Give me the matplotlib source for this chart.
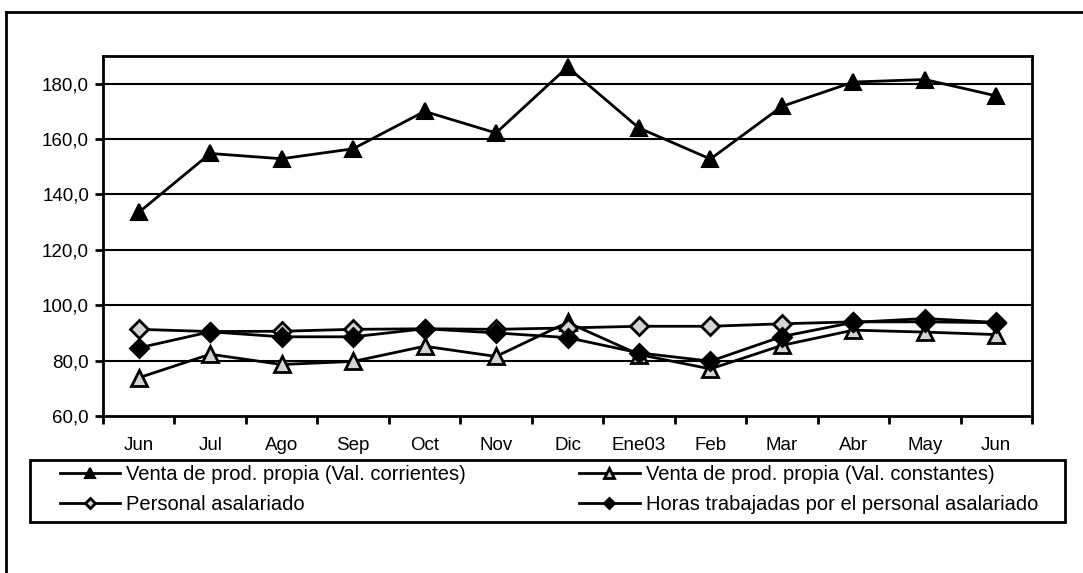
import numpy as np
import matplotlib
matplotlib.use("Agg")
import matplotlib.pyplot as plt
from matplotlib.patches import Rectangle
from matplotlib.lines import Line2D

plt.rcParams['font.family'] = ['Liberation Sans', 'DejaVu Sans']

# data
meses = ['Jun', 'Jul', 'Ago', 'Sep', 'Oct', 'Nov', 'Dic', 'Ene03', 'Feb', 'Mar', 'Abr', 'May', 'Jun']
venta_corr = [133.5, 154.8, 152.9, 156.5, 170.0, 162.2, 186.0, 164.0, 152.8, 171.8, 180.6, 181.5, 175.6]
venta_const = [73.8, 82.3, 78.6, 79.7, 85.2, 81.5, 93.8, 82.2, 77.0, 85.5, 91.0, 90.3, 89.4]
personal = [91.3, 90.5, 90.6, 91.3, 91.5, 91.3, 91.8, 92.4, 92.4, 93.3, 94.0, 94.0, 93.7]
horas = [84.6, 90.4, 88.6, 88.6, 91.5, 90.0, 88.3, 82.8, 79.8, 88.7, 93.8, 95.2, 93.8]

x = np.arange(len(meses))

fig = plt.figure(figsize=(10.83, 5.73), dpi=100)
ax = fig.add_axes([103 / 1083, 1 - 416 / 573, (1032 - 103) / 1083, (416 - 56) / 573])

ax.set_ylim(60, 190)
ax.set_xlim(-0.5, len(meses) - 0.5)
ax.set_yticks(np.arange(60, 181, 20))
ax.set_yticklabels(['%d,0' % v for v in range(60, 181, 20)])
for v in range(80, 181, 20):
    ax.axhline(v, color='black', lw=1.5, zorder=1)

l1, = ax.plot(x, venta_corr, color='black', lw=2, marker='^', ms=12,
              mfc='black', mec='black', mew=1.5, zorder=3,
              label='Venta de prod. propia (Val. corrientes)')
l2, = ax.plot(x, venta_const, color='black', lw=2, marker='^', ms=12,
              mfc='#d4d4d4', mec='black', mew=2, zorder=3,
              label='Venta de prod. propia (Val. constantes)')
l3, = ax.plot(x, personal, color='black', lw=2, marker='D', ms=9,
              mfc='#d4d4d4', mec='black', mew=2, zorder=3,
              label='Personal asalariado')
l4, = ax.plot(x, horas, color='black', lw=2, marker='D', ms=9,
              mfc='black', mec='black', mew=2, zorder=3,
              label='Horas trabajadas por el personal asalariado')

# category labels centered, tick marks between categories
ax.set_xticks(x)
ax.set_xticklabels(meses, fontsize=13.5)
ax.tick_params(axis='x', which='major', length=0, pad=15)
ax.set_xticks(np.arange(-0.5, len(meses)), minor=True)
ax.tick_params(axis='x', which='minor', length=6, width=2, direction='out')
ax.tick_params(axis='y', length=6, width=2, direction='out', labelsize=13.5, pad=4)

for s in ax.spines.values():
    s.set_linewidth(2)

# legend (frame drawn separately)
fig.legend([l1, l3, l2, l4], [l1.get_label(), l3.get_label(), l2.get_label(), l4.get_label()],
           ncol=2, mode='expand', frameon=False, fontsize=14.5, markerscale=0.55,
           bbox_to_anchor=(58 / 1083, 1 - 520 / 573, (1040 - 58) / 1083, 57 / 573),
           loc='upper left', borderpad=0.1, borderaxespad=0, handlelength=3.0,
           handletextpad=0.3, labelspacing=0.55)
fig.patches.append(Rectangle((30 / 1083, 1 - 522 / 573), (1065 - 30) / 1083, 62 / 573,
                             transform=fig.transFigure, fill=False, ec='black', lw=2))

# outer chart frame: only left and top edges fall inside the picture
fig.lines.append(Line2D([6 / 1083, 6 / 1083], [-0.05, 1 - 12 / 573],
                        transform=fig.transFigure, color='black', lw=2))
fig.lines.append(Line2D([6 / 1083, 1.05], [1 - 12 / 573, 1 - 12 / 573],
                        transform=fig.transFigure, color='black', lw=2))

fig.savefig('out.png', dpi=100)
